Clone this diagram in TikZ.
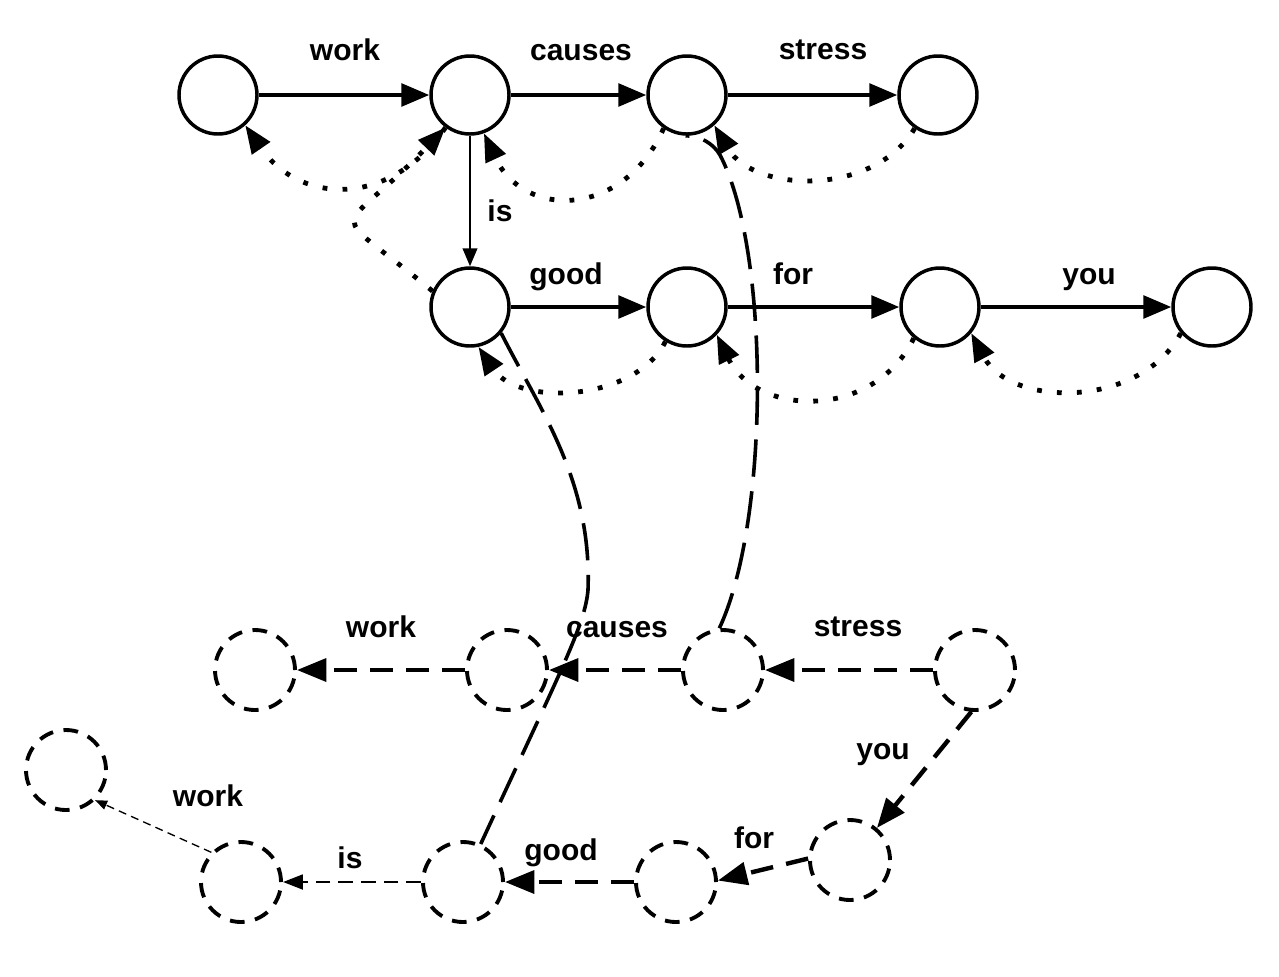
\documentclass[tikz,border=0pt]{standalone}
\usepackage{fontspec}
\setmainfont{Liberation Sans}
\usetikzlibrary{arrows.meta}
\tikzset{
 snode/.style={circle, draw, line width=2.6pt, minimum size=58.5pt, inner sep=0pt},
 dnode/.style={circle, draw, line width=2.9pt, dash pattern=on 11pt off 8pt, minimum size=60pt, inner sep=0pt},
 lbl/.style={font=\fontsize{22.5pt}{27pt}\selectfont\bfseries, anchor=base, inner sep=0pt},
 sedge/.style={line width=3pt, -{Triangle[length=21pt,width=17pt]}},
 thinedge/.style={line width=1.5pt, -{Triangle[length=13.5pt,width=11pt]}},
 dotedge/.style={line width=3.6pt, dash pattern=on 3.6pt off 11.4pt, -{Triangle[length=21pt,width=16pt]}},
 dedge/.style={line width=3.3pt, dash pattern=on 17pt off 10pt, -{Triangle[length=22pt,width=17pt]}},
 longdash/.style={line width=2.7pt, dash pattern=on 28pt off 11pt},
 medge/.style={line width=2.2pt, dash pattern=on 11pt off 6pt, -{Triangle[length=15pt,width=11pt]}},
 tedge/.style={line width=1pt, dash pattern=on 6pt off 4pt, -{Triangle[length=9pt,width=7pt]}},
}
\begin{document}
\begin{tikzpicture}[x=0.75pt,y=-0.75pt]
\useasboundingbox (0,0) rectangle (1279,976);
\fill[white] (0,0) rectangle (1279,976);
% solid nodes
\node[snode] (A1) at (218,95) {};
\node[snode] (A2) at (470,95) {};
\node[snode] (A3) at (687,95) {};
\node[snode] (A4) at (938,95) {};
\node[snode] (B1) at (470,307) {};
\node[snode] (B2) at (687,307) {};
\node[snode] (B3) at (940,307) {};
\node[snode] (B4) at (1212,307) {};
% dashed nodes
\node[dnode] (C1) at (255,670) {};
\node[dnode] (C2) at (507,670) {};
\node[dnode] (C3) at (723,670) {};
\node[dnode] (C4) at (975,670) {};
\node[dnode] (Dyou) at (850,860) {};
\node[dnode] (Dfor) at (676,882) {};
\node[dnode] (Dgood) at (463,882) {};
\node[dnode] (Dis) at (241,882) {};
\node[dnode] (Dwork) at (66,770) {};
% labels
\node[lbl] (t1) at (345,60) {work};
\node[lbl] (t2) at (581,60) {causes};
\node[lbl] (t3) at (823,59) {stress};
\node[lbl] (t4) at (500,221) {is};
\node[lbl] (t5) at (566,284) {good};
\node[lbl] (t6) at (793,284) {for};
\node[lbl] (t7) at (1089,284) {you};
\node[lbl] (u1) at (381,637) {work};
\node[lbl] (u2) at (617,637) {causes};
\node[lbl] (u3) at (858,636) {stress};
\node[lbl] (u4) at (883,759) {you};
\node[lbl] (u5) at (754,848) {for};
\node[lbl] (u6) at (561,860) {good};
\node[lbl] (u7) at (350,868) {is};
\node[lbl] (u8) at (208,806) {work};
% solid edges
\draw[sedge] (A1) -- (A2);
\draw[sedge] (A2) -- (A3);
\draw[sedge] (A3) -- (A4);
\draw[thinedge] (A2) -- (B1);
\draw[sedge] (B1) -- (B2);
\draw[sedge] (B2) -- (B3);
\draw[sedge] (B3) -- (B4);
% dotted back edges
\draw[dotedge] (A2.233) .. controls +(-55,80) and +(55,80) .. (A1.-48);
\draw[dotedge] (B1.157) .. controls +(-110,-91) and +(-110,115) .. (A2.233);
\draw[dotedge] (A3.235) .. controls +(-40,90) and +(40,86) .. (A2.-70);
\draw[dotedge] (A4.235) .. controls +(-40,68) and +(40,68) .. (A3.-48);
\draw[dotedge] (B2.238) .. controls +(-30,60) and +(40,60) .. (B1.-78);
\draw[dotedge] (B3.230) .. controls +(-40,82) and +(40,82) .. (B2.-43);
\draw[dotedge] (B4.220) .. controls +(-40,75) and +(40,75) .. (B3.-40);
% long dashed links
\coordinate (h1) at (720,155);
\coordinate (h2) at (588,590);
\draw[longdash] (C3.95) .. controls (770,520) and (770,250) .. (h1) .. controls (713,143) and (700,136) .. (A3.-92);
\draw[longdash] (B1.-40) .. controls (540,410) and (592,480) .. (h2) .. controls (585,625) and (562,668) .. (Dgood.65);
% lower dashed edges
\draw[dedge] (C2) -- (C1);
\draw[dedge] (C3) -- (C2);
\draw[dedge] (C4) -- (C3);
\draw[dedge] (C4.265) -- (Dyou.50);
\draw[dedge] (Dyou.178) -- (Dfor.2);
\draw[dedge] (Dfor) -- (Dgood);
\draw[medge] (Dgood) -- (Dis);
\draw[tedge] (Dis.135) -- (Dwork.-46);
\end{tikzpicture}
\end{document}
